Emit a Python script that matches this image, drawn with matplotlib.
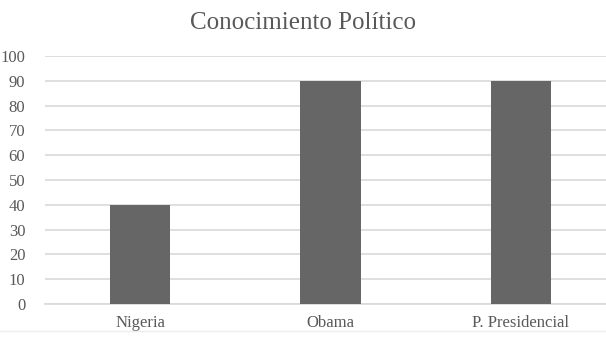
import matplotlib
matplotlib.use("Agg")
import matplotlib.pyplot as plt

categorias = ["Nigeria", "Obama", "P. Presidencial"]
valores = [40, 90, 90]
ticks_y = list(range(0, 101, 10))

plt.rcParams["font.family"] = ["Liberation Serif", "DejaVu Serif"]

fig = plt.figure(figsize=(6.06, 3.38), dpi=100)
ax = fig.add_axes([44.75 / 606, 34 / 338, 571.5 / 606, 248 / 338])

x = range(len(categorias))
ax.bar(x, valores, width=0.315, color="#666666", zorder=3)
ax.set_xlim(-0.5, 2.5)
ax.set_ylim(0, 100)
ax.set_yticks(ticks_y)
ax.set_xticks(list(x))
ax.set_xticklabels(categorias)
ax.grid(axis="y", color="#d9d9d9", linewidth=1.2, zorder=0)
for s in ["top", "right", "left"]:
    ax.spines[s].set_visible(False)
ax.spines["bottom"].set_color("#d9d9d9")
ax.spines["bottom"].set_linewidth(1.2)
ax.tick_params(axis="both", length=0, colors="#595959", labelsize=12)
ax.tick_params(axis="y", pad=14)
ax.tick_params(axis="x", pad=8)

fig.text(0.5, 1 - 23 / 338, "Conocimiento Político", ha="center", va="center",
         fontsize=18, color="#595959")
fig.add_artist(plt.Line2D([0, 1], [1 - 331 / 338] * 2, color="#eeeeee", linewidth=1))

fig.savefig("out.png", dpi=100)
plt.close(fig)
